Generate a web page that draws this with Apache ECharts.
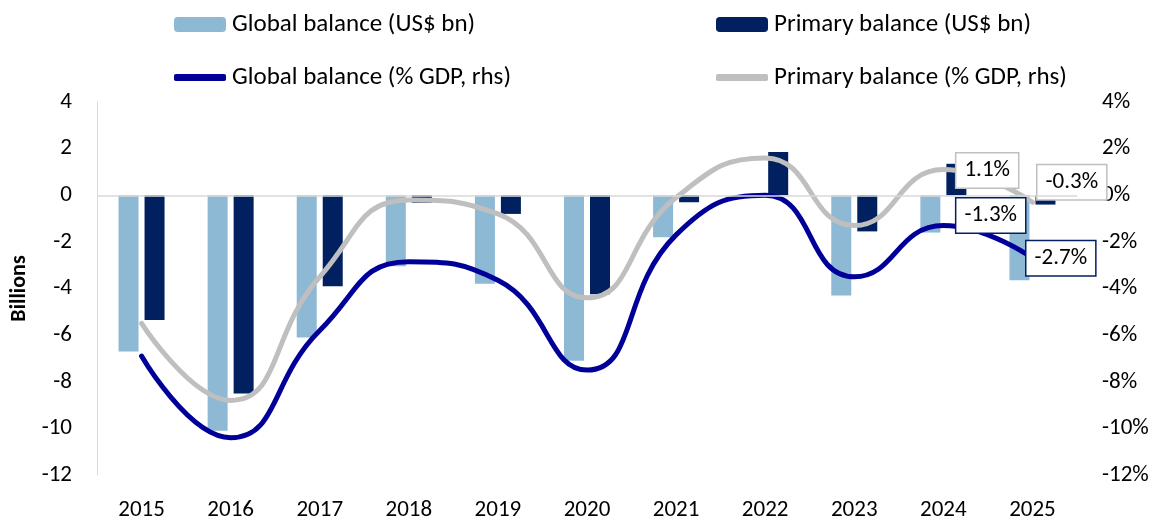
<!DOCTYPE html>
<html>
<head>
<meta charset="utf-8">
<script src="https://cdn.jsdelivr.net/npm/echarts@6/dist/echarts.min.js"></script>
<style>
  html, body { margin: 0; padding: 0; background: #fff; }
  #chart { width: 1158px; height: 524px; }
</style>
</head>
<body>
<div id="chart"></div>
<script>
// data
var years = ['2015', '2016', '2017', '2018', '2019', '2020', '2021', '2022', '2023', '2024', '2025'];
var globalBn = [-6.7, -10.1, -6.1, -3.05, -3.8, -7.1, -1.8, 0, -4.3, -1.6, -3.65];
var primaryBn = [-5.35, -8.5, -3.9, -0.33, -0.8, -4.25, -0.3, 1.85, -1.55, 1.35, -0.4];
var globalPct = [-6.9, -10.4, -5.8, -2.85, -3.65, -7.5, -1.7, 0.0, -3.5, -1.3, -2.7];
var primaryPct = [-5.5, -8.8, -3.5, -0.2, -0.8, -4.4, -0.1, 1.6, -1.3, 1.1, -0.3];

var font = 'Carlito, Lato, sans-serif';

function boxLabel(border, offset) {
    return {
        show: true,
        position: 'right',
        distance: 0,
        offset: offset,
        formatter: function (p) { return p.value.toFixed(1) + '%'; },
        fontFamily: font,
        fontSize: 23,
        color: '#000',
        backgroundColor: '#fff',
        borderColor: border,
        borderWidth: 1.5,
        padding: [6, 8, 5, 8]
    };
}

// only the last two years carry a label box
function withLabels(values, border, offsets) {
    let out = [];
    for (let i = 0; i < values.length; ++i) {
        let item = { value: values[i] };
        let k = i - (values.length - 2);
        if (k >= 0) item.label = boxLabel(border, offsets[k]);
        out.push(item);
    }
    return out;
}

var myChart = echarts.init(document.getElementById('chart'));
var legendText = { fontFamily: font, fontSize: 25, color: '#000', padding: [0, 0, 0, 1] };
option = {
    animation: false,
    legend: [
        { data: ['Global balance (US$ bn)'], left: 169, top: 7, itemWidth: 52, itemHeight: 15, textStyle: legendText },
        { data: ['Primary balance (US$ bn)'], left: 711, top: 7, itemWidth: 52, itemHeight: 15, textStyle: legendText },
        { data: [{ name: 'Global balance (% GDP, rhs)', icon: 'roundRect' }], left: 169, top: 60, itemWidth: 52, itemHeight: 7, textStyle: legendText },
        { data: [{ name: 'Primary balance (% GDP, rhs)', icon: 'roundRect' }], left: 711, top: 60, itemWidth: 52, itemHeight: 7, textStyle: legendText }
    ],
    grid: { left: 97, right: 81, top: 102, bottom: 49 },
    xAxis: {
        type: 'category',
        data: years,
        axisLine: { show: false },
        axisTick: { show: false },
        axisLabel: { fontFamily: font, fontSize: 23, color: '#000', margin: 24 }
    },
    yAxis: [
        {
            type: 'value', min: -12, max: 4, interval: 2,
            name: 'Billions', nameLocation: 'middle', nameGap: 63, nameRotate: 90,
            nameTextStyle: { fontFamily: font, fontSize: 22, fontWeight: 'bold', color: '#000' },
            axisLine: { show: true, lineStyle: { color: '#d9d9d9', width: 1 } },
            axisTick: { show: false },
            splitLine: { show: false },
            axisLabel: { fontFamily: font, fontSize: 23, color: '#000', margin: 25 }
        },
        {
            type: 'value', min: -12, max: 4, interval: 2,
            axisLine: { show: false },
            axisTick: { show: false },
            splitLine: { show: false },
            axisLabel: { fontFamily: font, fontSize: 23, color: '#000', margin: 25, formatter: '{value}%' }
        }
    ],
    series: [
        {
            name: 'Global balance (US$ bn)', type: 'bar', data: globalBn,
            barWidth: 20, barGap: '30%',
            itemStyle: { color: '#8db9d5' },
            markLine: {
                silent: true, symbol: 'none', label: { show: false },
                lineStyle: { color: '#d9d9d9', width: 1.5, type: 'solid' },
                data: [{ yAxis: 0 }]
            }
        },
        {
            name: 'Primary balance (US$ bn)', type: 'bar', data: primaryBn,
            barWidth: 20,
            itemStyle: { color: '#002060' }
        },
        {
            name: 'Primary balance (% GDP, rhs)', type: 'line', yAxisIndex: 1,
            data: withLabels(primaryPct, '#bfbfbf', [[13, 1], [5, -20]]),
            smooth: 0.5, showSymbol: true, symbol: 'circle', symbolSize: 0.1,
            lineStyle: { color: '#bfbfbf', width: 5, cap: 'round' },
            itemStyle: { color: '#bfbfbf' }
        },
        {
            name: 'Global balance (% GDP, rhs)', type: 'line', yAxisIndex: 1,
            data: withLabels(globalPct, '#002060', [[13, -10], [-6, 0]]),
            smooth: 0.5, showSymbol: true, symbol: 'circle', symbolSize: 0.1,
            lineStyle: { color: '#000099', width: 5, cap: 'round' },
            itemStyle: { color: '#000099' }
        }
    ]
};
myChart.setOption(option);
</script>
</body>
</html>
